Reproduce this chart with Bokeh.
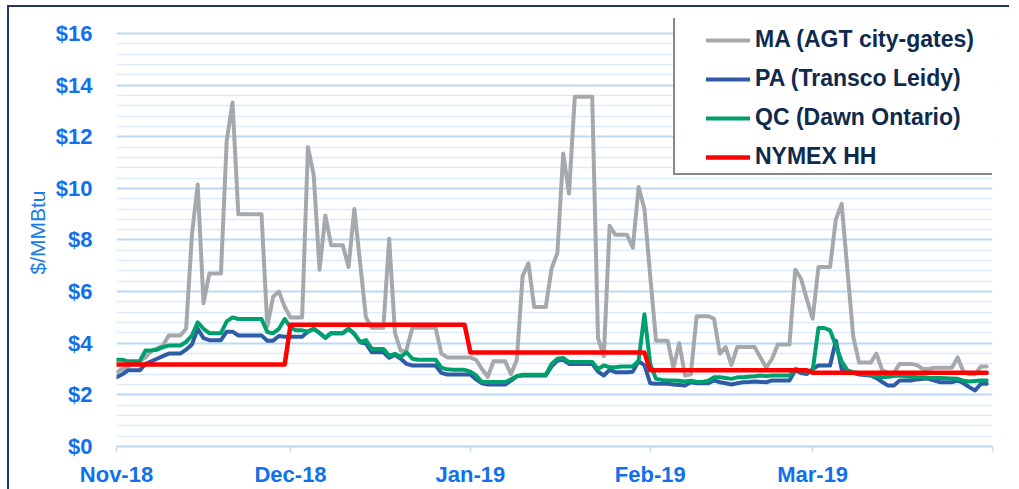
import pandas as pd
from bokeh.plotting import figure
from bokeh.models import (ColumnDataSource, Range1d, FixedTicker,
                          PrintfTickFormatter, Legend, LegendItem)
from bokeh.embed import file_html
from bokeh.resources import INLINE

# ---------------- data ----------------
dates = pd.date_range("2018-11-01", "2019-03-31", freq="D")
month_starts = pd.date_range("2018-11-01", "2019-04-01", freq="MS")
month_labels = ["Nov-18", "Dec-18", "Jan-19", "Feb-19", "Mar-19", ""]
y_ticks = [0, 2, 4, 6, 8, 10, 12, 14, 16]

series_names = ["MA (AGT city-gates)", "PA (Transco Leidy)", "QC (Dawn Ontario)", "NYMEX HH"]

ma = [2.88, 3.0, 3.1, 3.2, 3.3, 3.45, 3.7, 3.8, 3.9, 4.3,
      4.3, 4.3, 4.56, 8.2, 10.15, 5.55, 6.7, 6.7, 6.7, 11.85,
      13.33, 9.0, 9.0, 9.0, 9.0, 9.0, 4.65, 5.8, 6.0, 5.4,
      5.0, 5.0, 5.0, 11.6, 10.5, 6.85, 8.95, 7.8, 7.8, 7.8,
      6.95, 9.2, 7.1, 5.0, 4.6, 4.6, 4.6, 8.05, 4.4, 3.7,
      3.75, 4.6, 4.6, 4.6, 4.6, 4.6, 3.6, 3.45, 3.45, 3.45,
      3.45, 3.45, 3.35, 3.0, 2.7, 3.3, 3.3, 3.3, 2.8, 3.35,
      6.6, 7.1, 5.4, 5.4, 5.4, 6.9, 7.5, 11.35, 9.8, 13.55,
      13.55, 13.55, 13.55, 4.2, 3.5, 8.55, 8.2, 8.2, 8.2, 7.7,
      10.05, 9.2, 6.6, 4.1, 4.1, 4.1, 3.05, 4.0, 2.75, 2.8,
      5.05, 5.05, 5.05, 4.95, 3.6, 3.85, 3.15, 3.85, 3.85, 3.85,
      3.85, 3.45, 3.05, 3.4, 3.95, 3.95, 3.95, 6.85, 6.5, 5.7,
      4.95, 6.95, 6.95, 6.95, 8.8, 9.4, 6.8, 4.25, 3.25, 3.25,
      3.25, 3.6, 2.95, 2.85, 2.85, 3.2, 3.2, 3.2, 3.15, 3.0,
      3.0, 3.05, 3.05, 3.05, 3.05, 3.45, 2.9, 2.8, 2.8, 3.1,
      3.1]

pa = [2.68, 2.8, 2.95, 2.95, 2.95, 3.2, 3.3, 3.4, 3.5, 3.6,
      3.6, 3.6, 3.75, 3.95, 4.56, 4.2, 4.12, 4.12, 4.12, 4.45,
      4.45, 4.3, 4.3, 4.3, 4.3, 4.3, 4.1, 4.1, 4.28, 4.25,
      4.25, 4.25, 4.25, 4.45, 4.56, 4.4, 4.21, 4.39, 4.39, 4.39,
      4.56, 4.36, 4.04, 3.99, 3.65, 3.65, 3.65, 3.44, 3.55, 3.4,
      3.2, 3.14, 3.14, 3.14, 3.14, 3.14, 2.85, 2.79, 2.79, 2.79,
      2.79, 2.79, 2.6, 2.45, 2.4, 2.4, 2.4, 2.4, 2.55, 2.72,
      2.75, 2.75, 2.75, 2.75, 2.75, 3.1, 3.33, 3.36, 3.2, 3.2,
      3.2, 3.2, 3.2, 2.9, 2.75, 2.97, 2.88, 2.88, 2.88, 2.9,
      3.3, 3.15, 2.45, 2.43, 2.43, 2.43, 2.4, 2.38, 2.36, 2.49,
      2.45, 2.45, 2.45, 2.56, 2.49, 2.45, 2.4, 2.45, 2.49, 2.5,
      2.52, 2.5, 2.49, 2.56, 2.56, 2.56, 2.56, 2.95, 2.85, 2.81,
      3.0, 3.14, 3.14, 3.14, 4.1, 3.0, 2.9, 2.85, 2.79, 2.77,
      2.75, 2.65, 2.5, 2.36, 2.36, 2.56, 2.56, 2.56, 2.6, 2.62,
      2.62, 2.55, 2.49, 2.49, 2.49, 2.56, 2.45, 2.3, 2.17, 2.43,
      2.43]

qc = [3.36, 3.36, 3.3, 3.3, 3.3, 3.72, 3.72, 3.75, 3.85, 3.91,
      3.91, 3.91, 4.05, 4.3, 4.81, 4.56, 4.39, 4.39, 4.39, 4.85,
      5.0, 4.94, 4.94, 4.94, 4.94, 4.94, 4.43, 4.39, 4.56, 4.94,
      4.6, 4.5, 4.5, 4.45, 4.56, 4.4, 4.21, 4.39, 4.39, 4.39,
      4.56, 4.36, 4.04, 4.12, 3.78, 3.78, 3.78, 3.52, 3.59, 3.47,
      3.65, 3.4, 3.36, 3.36, 3.36, 3.36, 3.05, 2.99, 2.97, 2.97,
      2.97, 2.9, 2.75, 2.5, 2.5, 2.5, 2.5, 2.5, 2.6, 2.72,
      2.78, 2.78, 2.78, 2.78, 2.78, 3.2, 3.4, 3.43, 3.27, 3.27,
      3.27, 3.27, 3.27, 3.0, 3.14, 3.07, 3.07, 3.1, 3.1, 3.1,
      3.33, 5.12, 3.2, 2.62, 2.58, 2.56, 2.56, 2.55, 2.52, 2.55,
      2.5, 2.5, 2.55, 2.68, 2.68, 2.65, 2.62, 2.68, 2.68, 2.7,
      2.72, 2.75, 2.73, 2.75, 2.75, 2.75, 2.75, 3.0, 2.95, 2.9,
      2.94, 4.59, 4.59, 4.5, 3.9, 3.3, 2.95, 2.88, 2.85, 2.8,
      2.79, 2.72, 2.68, 2.7, 2.73, 2.75, 2.72, 2.7, 2.68, 2.68,
      2.66, 2.65, 2.65, 2.64, 2.63, 2.62, 2.55, 2.52, 2.54, 2.56,
      2.56]

hh_month = [11, 12, 1, 2, 3]
hh_price = [3.18, 4.72, 3.64, 2.95, 2.86]

# ---------------- build ----------------
x = list((dates - dates[0]).days)
tick_pos = [int(v) for v in (month_starts - dates[0]).days]
hh_lookup = dict(zip(hh_month, hh_price))
hh = [hh_lookup[d.month] for d in dates]

src = ColumnDataSource(dict(x=x, ma=ma, pa=pa, qc=qc, hh=hh))

BLUE_TXT = "#1170EC"
NAVY = "#0E2A4D"
FONT = "Liberation Sans"

# plot frame extends a little above $16 so that the legend box (which is
# clipped to the frame) can reach up like in the original
p = figure(frame_width=876, frame_height=428,
           min_border_left=107, min_border_right=17, min_border_top=11, min_border_bottom=35,
           x_range=Range1d(0, tick_pos[-1]), y_range=Range1d(0, 16.58),
           output_backend="svg", toolbar_location=None,
           background_fill_color="white", border_fill_color="white",
           outline_line_color=None)
p.styles = {"margin-left": "7px", "margin-top": "5px",
            "border-left": "2px solid #22395F", "border-top": "2px solid #22395F"}

# y axis
minor = [round(0.4 * k, 1) for k in range(41) if k % 5]
yt = FixedTicker(ticks=y_ticks, minor_ticks=minor)
p.yaxis.ticker = yt
p.yaxis.formatter = PrintfTickFormatter(format="$%d")
p.yaxis.axis_line_color = None
p.yaxis.major_tick_line_color = None
p.yaxis.minor_tick_line_color = None
p.yaxis.major_label_standoff = 18
p.yaxis.major_label_text_font = FONT
p.yaxis.major_label_text_font_style = "bold"
p.yaxis.major_label_text_font_size = "22px"
p.yaxis.major_label_text_color = BLUE_TXT
p.yaxis.axis_label = "$/MMBtu"
p.yaxis.axis_label_text_font = FONT
p.yaxis.axis_label_text_font_style = "normal"
p.yaxis.axis_label_text_font_size = "21px"
p.yaxis.axis_label_text_color = "#1A7BEA"
p.yaxis.axis_label_standoff = 4

p.ygrid.ticker = yt
p.ygrid.grid_line_color = "#BED7F2"
p.ygrid.grid_line_width = 1.8
p.ygrid.minor_grid_line_color = "#DDEAF9"
p.ygrid.minor_grid_line_width = 1.5
p.xgrid.grid_line_color = None

# x axis
p.xaxis.ticker = FixedTicker(ticks=tick_pos)
p.xaxis.major_label_overrides = {t: lab for t, lab in zip(tick_pos, month_labels)}
p.xaxis.minor_tick_line_color = None
p.xaxis.major_tick_in = 0
p.xaxis.major_tick_out = 5
p.xaxis.major_tick_line_color = "#BDD7EE"
p.xaxis.major_tick_line_width = 1.5
p.xaxis.axis_line_color = "#BDD7EE"
p.xaxis.axis_line_width = 2
p.xaxis.major_label_standoff = 10
p.xaxis.major_label_text_font = FONT
p.xaxis.major_label_text_font_style = "bold"
p.xaxis.major_label_text_font_size = "22px"
p.xaxis.major_label_text_color = BLUE_TXT

# lines
common = dict(source=src, line_join="round", line_cap="round")
r_dummy = p.line("x", "hh", source=src, line_alpha=0)
r_ma = p.line("x", "ma", line_color="#A6A9AC", line_width=4, **common)
r_pa = p.line("x", "pa", line_color="#2E5DA6", line_width=4, **common)
r_qc = p.line("x", "qc", line_color="#00A06E", line_width=4, **common)
r_hh = p.line("x", "hh", line_color="#FF0000", line_width=4.5, **common)

# legend box (background / border)
leg_box = Legend(items=[LegendItem(label=" ", renderers=[r_dummy])],
                 location=(557, 271), padding=0, margin=0, spacing=0,
                 glyph_width=1, glyph_height=155, label_width=316, label_height=155,
                 label_standoff=0, border_line_color="#111111", border_line_width=2,
                 background_fill_color="white", background_fill_alpha=1)
# legend entries
leg = Legend(items=[LegendItem(label=series_names[0], renderers=[r_ma]),
                    LegendItem(label=series_names[1], renderers=[r_pa]),
                    LegendItem(label=series_names[2], renderers=[r_qc]),
                    LegendItem(label=series_names[3], renderers=[r_hh])],
             location=(590, 276), padding=0, margin=0, spacing=12,
             glyph_width=44, glyph_height=26, label_height=26, label_standoff=5,
             label_text_font=FONT, label_text_font_style="bold",
             label_text_font_size="23px", label_text_color=NAVY,
             border_line_color=None, background_fill_alpha=0)
p.add_layout(leg_box, "center")
p.add_layout(leg, "center")

open("out.html", "w").write(file_html(p, INLINE))
